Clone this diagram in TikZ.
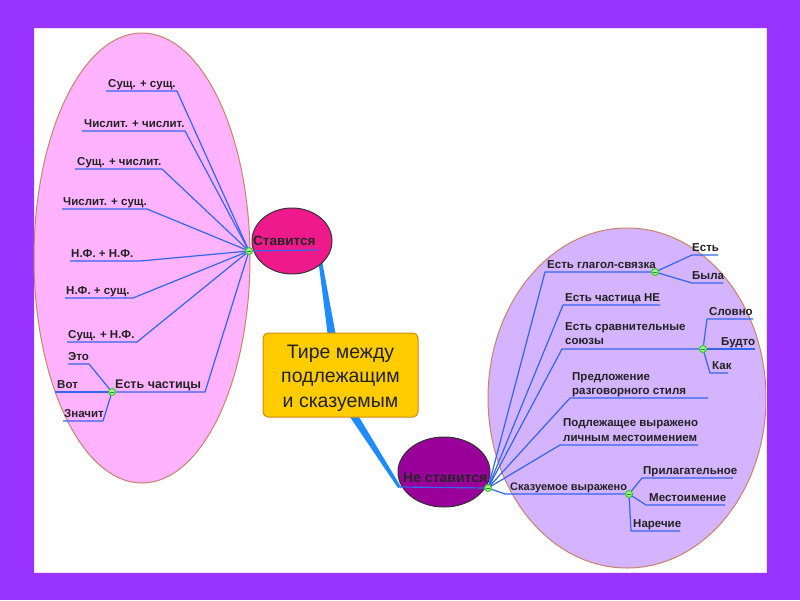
\documentclass[tikz,border=0pt]{standalone}
\usepackage{fontspec}
\setmainfont{Liberation Sans}
\usetikzlibrary{shapes.geometric,calc}
\definecolor{bgpurple}{HTML}{9933FF}
\definecolor{lpink}{HTML}{FFB3FF}
\definecolor{lviolet}{HTML}{D4B3FF}
\definecolor{eggedge}{HTML}{C8826E}
\definecolor{connblue}{HTML}{3366EE}
\definecolor{wedgeblue}{HTML}{1E8CFF}
\definecolor{hotmag}{HTML}{EE1A8C}
\definecolor{darkmag}{HTML}{990099}
\definecolor{gold}{HTML}{FFCC00}
\definecolor{goldedge}{HTML}{D08A10}
\definecolor{dotgreen}{HTML}{33CC33}
\definecolor{dotfill}{HTML}{A8F08C}
\definecolor{txt}{HTML}{222222}
\tikzset{
  conn/.style={draw=connblue, line width=1.2pt, line join=round},
  lbl/.style={inner sep=0pt, anchor=base west, text=txt, font=\bfseries\fontsize{11.5}{14.5}\selectfont},
  lblml/.style={inner sep=0pt, anchor=north west, align=left, text=txt, font=\bfseries\fontsize{11.5}{14.5}\selectfont},
  gdot/.style={circle, draw=dotgreen, fill=dotfill, line width=1pt, minimum size=7pt, inner sep=0pt},
}
\begin{document}
\begin{tikzpicture}[x=1pt,y=-1pt]
\useasboundingbox (0,0) rectangle (800,600);
\fill[bgpurple] (0,0) rectangle (800,600);
\fill[white] (34,28) rectangle (766,572);
\draw[white!85!bgpurple, line width=0.8pt] (34,28) rectangle (766,572);

% background ellipses
\node[ellipse, draw=eggedge, fill=lpink, line width=1pt, minimum width=216pt, minimum height=450pt, inner sep=0pt] (leftegg) at (142,258) {};
\begin{scope}
\clip (34,28) rectangle (766,572);
\node[ellipse, draw=eggedge, fill=lviolet, line width=1pt, minimum width=278pt, minimum height=340pt, inner sep=0pt] (rightegg) at (627,398) {};
\end{scope}

% main thick connectors (tapered)
\coordinate (stEnd) at (318,250);
\coordinate (nsStart) at (400,487);
\fill[wedgeblue] (317,250) -- (320,250) -- (336,336) -- (328,337) -- cycle;
\fill[wedgeblue] (348,414) -- (356,412) -- (401,487) -- (398,488) -- cycle;

% central box
\node[draw=goldedge, fill=gold, rounded corners=5pt, line width=1pt, minimum width=155pt, minimum height=84pt, inner sep=0pt] (center) at (340.5,375) {};
\node[align=center, inner sep=0pt, text=txt, font=\fontsize{19.5}{24.5}\selectfont] (centertxt) at (340.5,378) {Тире между\\подлежащим\\и сказуемым};

% Ставится ellipse
\node[ellipse, draw=black!80, fill=hotmag, line width=1pt, minimum width=80pt, minimum height=66pt, inner sep=0pt] (stav) at (292,241) {};
\node[inner sep=0pt, anchor=base west, text=black!85, font=\bfseries\fontsize{13.5}{16}\selectfont] (stavtxt) at (253,245) {Ставится};

% Не ставится ellipse
\node[ellipse, draw=black!80, fill=darkmag, line width=1pt, minimum width=92pt, minimum height=70pt, inner sep=0pt] (nestav) at (444,472) {};
\node[inner sep=0pt, anchor=base west, text=black!85, font=\bfseries\fontsize{14}{16}\selectfont] (nestavtxt) at (403,482) {Не ставится};

% ---------- left side ----------
\coordinate (dL) at (249,251);
\coordinate (dP) at (112,392);
\draw[conn] (dL) -- (stEnd);
\draw[conn] (nsStart) -- (488,488);

\coordinate (a1l) at (106,91);  \coordinate (a1r) at (177,91);
\coordinate (a2l) at (82,131);  \coordinate (a2r) at (185,131);
\coordinate (a3l) at (75,169);  \coordinate (a3r) at (162,169);
\coordinate (a4l) at (62,209);  \coordinate (a4r) at (147,209);
\coordinate (a5l) at (70,261);  \coordinate (a5r) at (140,261);
\coordinate (a6l) at (65,298);  \coordinate (a6r) at (133,298);
\coordinate (a7l) at (67,342);  \coordinate (a7r) at (137,342);
\coordinate (a8r) at (205,392);
\foreach \i in {1,...,7}{\draw[conn] (dL) -- (a\i r) -- (a\i l);}
\draw[conn] (dL) -- (a8r) -- (dP);

\node[lbl] (t1) at (108,87.5) {Сущ. + сущ.};
\node[lbl] (t2) at (84,127.5) {Числит. + числит.};
\node[lbl] (t3) at (77,165.5) {Сущ. + числит.};
\node[lbl] (t4) at (63,205.5) {Числит. + сущ.};
\node[lbl] (t5) at (71,257.5) {Н.Ф. + Н.Ф.};
\node[lbl] (t6) at (66,294.5) {Н.Ф. + сущ.};
\node[lbl] (t7) at (68,338.5) {Сущ. + Н.Ф.};
\node[lbl, font=\bfseries\fontsize{12.5}{15}\selectfont] (t8) at (115,388) {Есть частицы};

\coordinate (p1l) at (68,364); \coordinate (p1r) at (89,364);
\coordinate (p2l) at (55,392);
\coordinate (p3l) at (63,421); \coordinate (p3r) at (103,421);
\draw[conn] (dP) -- (p1r) -- (p1l);
\draw[conn] (dP) -- (p2l);
\draw[conn] (dP) -- (p3r) -- (p3l);
\node[lbl] (tp1) at (68,360.5) {Это};
\node[lbl] (tp2) at (57,388.5) {Вот};
\node[lbl] (tp3) at (64,417.5) {Значит};

% ---------- right side ----------
\coordinate (dR) at (488,488);
\coordinate (dRA) at (655,272);
\coordinate (dRB) at (703,349);
\coordinate (dRC) at (629,494);

\coordinate (r1l) at (545,272);
\coordinate (r2l) at (563,305); \coordinate (r2r) at (660,305);
\coordinate (r3l) at (562,349);
\coordinate (r4l) at (570,398); \coordinate (r4r) at (708,398);
\coordinate (r5l) at (560,445); \coordinate (r5r) at (698,445);
\coordinate (r6l) at (505,494);
\draw[conn] (dR) -- (r1l) -- (dRA);
\draw[conn] (dR) -- (r2l) -- (r2r);
\draw[conn] (dR) -- (r3l) -- (dRB);
\draw[conn] (dR) -- (r4l) -- (r4r);
\draw[conn] (dR) -- (r5l) -- (r5r);
\draw[conn] (dR) -- (r6l) -- (dRC);

\node[lbl] (u1) at (547,268.5) {Есть глагол-связка};
\node[lbl] (u2) at (565,301.5) {Есть частица НЕ};
\node[lblml] (u3) at (565,322) {Есть сравнительные\\союзы};
\node[lblml] (u4) at (572,372) {Предложение\\разговорного стиля};
\node[lblml] (u5) at (563,418.5) {Подлежащее выражено\\личным местоимением};
\node[lbl, font=\bfseries\fontsize{11}{13}\selectfont] (u6) at (510,490.5) {Сказуемое выражено};

% sub-branches A
\coordinate (sa1l) at (692,255); \coordinate (sa1r) at (718,255);
\coordinate (sa2l) at (692,283); \coordinate (sa2r) at (723,283);
\draw[conn] (dRA) -- (sa1l) -- (sa1r);
\draw[conn] (dRA) -- (sa2l) -- (sa2r);
\node[lbl] (va1) at (692,251.5) {Есть};
\node[lbl] (va2) at (692,279.5) {Была};

% sub-branches B
\coordinate (sb1l) at (707,319); \coordinate (sb1r) at (753,319);
\coordinate (sb2r) at (755,349);
\coordinate (sb3l) at (710,373); \coordinate (sb3r) at (728,373);
\draw[conn] (dRB) -- (sb1l) -- (sb1r);
\draw[conn] (dRB) -- (sb2r);
\draw[conn] (dRB) -- (sb3l) -- (sb3r);
\node[lbl] (vb1) at (709,315.5) {Словно};
\node[lbl] (vb2) at (721,345.5) {Будто};
\node[lbl] (vb3) at (712,369.5) {Как};

% sub-branches C
\coordinate (sc1l) at (642,478); \coordinate (sc1r) at (733,478);
\coordinate (sc2l) at (646,505); \coordinate (sc2r) at (725,505);
\coordinate (sc3l) at (631,531); \coordinate (sc3r) at (680,531);
\draw[conn] (dRC) -- (sc1l) -- (sc1r);
\draw[conn] (dRC) -- (sc2l) -- (sc2r);
\draw[conn] (dRC) -- (sc3l) -- (sc3r);
\node[lbl] (vc1) at (643,474.5) {Прилагательное};
\node[lbl] (vc2) at (649,501.5) {Местоимение};
\node[lbl] (vc3) at (633,527.5) {Наречие};

% green dots
\foreach \d in {dL,dP,dR,dRA,dRB,dRC}{
  \node[gdot] at (\d) {};
  \draw[dotgreen!70!black, line width=0.6pt] ($(\d)+(-2,0)$) -- ($(\d)+(2,0)$);
}
\end{tikzpicture}
\end{document}
